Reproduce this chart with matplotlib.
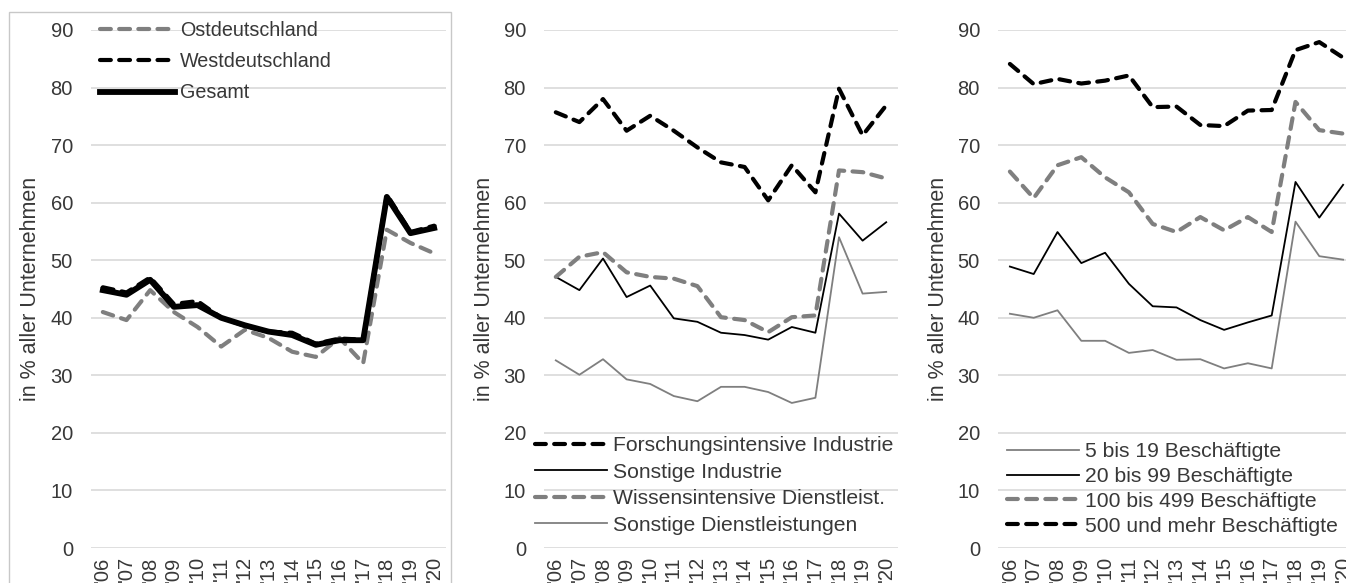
import matplotlib
matplotlib.use("Agg")
import matplotlib.pyplot as plt
from matplotlib.patches import Rectangle

plt.rcParams["font.family"] = ["Liberation Sans", "DejaVu Sans"]

years = ["'06", "'07", "'08", "'09", "'10", "'11", "'12", "'13", "'14", "'15", "'16", "'17", "'18", "'19", "'20"]
y_label = "in % aller Unternehmen"

# Panel 1: Region
ost = [41.0, 39.6, 44.8, 41.0, 38.4, 35.0, 37.9, 36.5, 34.1, 33.2, 36.5, 32.1, 55.3, 53.0, 51.2]
west = [45.3, 44.4, 47.0, 42.4, 42.9, 40.0, 38.6, 37.6, 37.4, 35.5, 36.4, 36.2, 61.4, 54.9, 56.0]
gesamt = [44.8, 44.0, 46.6, 41.9, 42.2, 40.0, 38.7, 37.6, 37.0, 35.3, 36.1, 36.1, 61.0, 54.7, 55.6]

# Panel 2: Branche
forschung = [75.7, 74.0, 78.0, 72.5, 75.1, 72.5, 69.6, 67.0, 66.2, 60.4, 66.5, 61.8, 79.8, 71.7, 76.9]
sonst_ind = [47.1, 44.8, 50.3, 43.6, 45.6, 39.9, 39.3, 37.4, 37.0, 36.2, 38.4, 37.4, 58.1, 53.4, 56.6]
wissen = [47.1, 50.6, 51.4, 47.9, 47.1, 46.8, 45.5, 40.1, 39.6, 37.5, 40.1, 40.4, 65.6, 65.3, 64.2]
sonst_dl = [32.6, 30.1, 32.8, 29.3, 28.5, 26.4, 25.5, 28.0, 28.0, 27.1, 25.2, 26.1, 54.0, 44.2, 44.5]

# Panel 3: Groesse
gr_5_19 = [40.7, 40.0, 41.3, 36.0, 36.0, 33.9, 34.4, 32.7, 32.8, 31.2, 32.1, 31.2, 56.7, 50.7, 50.1]
gr_20_99 = [48.9, 47.6, 54.9, 49.5, 51.3, 45.9, 42.0, 41.8, 39.6, 37.9, 39.2, 40.4, 63.6, 57.4, 63.1]
gr_100_499 = [65.4, 60.8, 66.5, 67.9, 64.4, 61.8, 56.3, 54.9, 57.5, 55.2, 57.5, 54.9, 77.5, 72.6, 72.0]
gr_500 = [84.1, 80.6, 81.5, 80.7, 81.2, 82.1, 76.6, 76.7, 73.5, 73.3, 76.0, 76.1, 86.5, 87.9, 85.2]

W, H = 1346, 583
GRAY = "#7f7f7f"
TXT = "#383838"
DASH = (2.6, 2.0)

fig = plt.figure(figsize=(W / 100, H / 100), dpi=100)

# frame around the first chart
fig.patches.append(Rectangle((9 / W, -0.1), 442 / W, 1.1 - 12 / H, transform=fig.transFigure,
                             fill=False, edgecolor="#c8c8c8", linewidth=1.0))


def make_ax(left_px, width_px):
    ax = fig.add_axes([left_px / W, 35 / H, width_px / W, 518 / H])
    ax.set_xlim(-0.5, len(years) - 0.5)
    ax.set_ylim(0, 90)
    ax.set_yticks(range(0, 91, 10))
    ax.set_xticks(range(len(years)))
    ax.set_xticklabels(years, rotation=90, va="top", ha="center")
    ax.tick_params(axis="both", length=0, labelsize=14.5, colors=TXT)
    ax.tick_params(axis="y", pad=13)
    ax.tick_params(axis="x", pad=6)
    ax.grid(axis="y", color="#d9d9d9", linewidth=1.2)
    ax.set_axisbelow(True)
    for s in ax.spines.values():
        s.set_visible(False)
    ax.patch.set_alpha(0)
    fig.text((left_px - 60) / W, 1 - 289 / H, y_label, rotation=90, ha="center", va="center",
             fontsize=15.5, color=TXT)
    return ax


def dashed(ax, y, color, lw, label):
    ax.plot(range(len(y)), y, color=color, lw=lw, dashes=DASH, dash_capstyle="round",
            solid_joinstyle="round", label=label)


def solid(ax, y, color, lw, label):
    ax.plot(range(len(y)), y, color=color, lw=lw, solid_joinstyle="round", label=label)


ax1 = make_ax(91, 355)
dashed(ax1, ost, GRAY, 3.0, "Ostdeutschland")
dashed(ax1, west, "black", 3.0, "Westdeutschland")
solid(ax1, gesamt, "black", 4.2, "Gesamt")
ax1.legend(loc="upper left", bbox_to_anchor=(100 / W, 1 - 21 / H), bbox_transform=fig.transFigure,
           frameon=False, borderpad=0, borderaxespad=0, fontsize=14.2, handlelength=3.8,
           handletextpad=0.25, labelspacing=0.62, labelcolor=TXT)

ax2 = make_ax(544, 354)
dashed(ax2, forschung, "black", 3.0, "Forschungsintensive Industrie")
solid(ax2, sonst_ind, "black", 1.3, "Sonstige Industrie")
dashed(ax2, wissen, GRAY, 3.0, "Wissensintensive Dienstleist.")
solid(ax2, sonst_dl, GRAY, 1.3, "Sonstige Dienstleistungen")
ax2.legend(loc="upper left", bbox_to_anchor=(535 / W, 1 - 436 / H), bbox_transform=fig.transFigure,
           frameon=False, borderpad=0, borderaxespad=0, fontsize=15.2, handlelength=3.4,
           handletextpad=0.3, labelspacing=0.36, labelcolor=TXT)

ax3 = make_ax(998, 357)
solid(ax3, gr_5_19, GRAY, 1.3, "5 bis 19 Beschäftigte")
solid(ax3, gr_20_99, "black", 1.3, "20 bis 99 Beschäftigte")
dashed(ax3, gr_100_499, GRAY, 3.0, "100 bis 499 Beschäftigte")
dashed(ax3, gr_500, "black", 3.0, "500 und mehr Beschäftigte")
ax3.legend(loc="upper left", bbox_to_anchor=(1007 / W, 1 - 442 / H), bbox_transform=fig.transFigure,
           frameon=False, borderpad=0, borderaxespad=0, fontsize=15.2, handlelength=3.4,
           handletextpad=0.3, labelspacing=0.28, labelcolor=TXT)

fig.savefig("out.png", dpi=100)
